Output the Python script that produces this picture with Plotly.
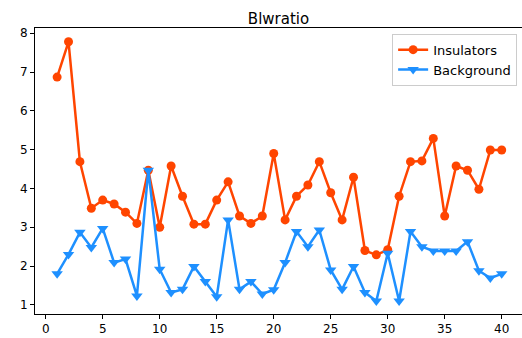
import plotly.graph_objects as go

x_vals = list(range(1, 41))
insulators = [6.87, 7.78, 4.69, 3.49, 3.70, 3.60, 3.39, 3.10, 4.47, 3.00,
              4.58, 3.80, 3.08, 3.08, 3.70, 4.17, 3.29, 3.10, 3.29, 4.90,
              3.19, 3.80, 4.09, 4.69, 3.89, 3.19, 4.29, 2.40, 2.29, 2.42,
              3.80, 4.69, 4.71, 5.29, 3.29, 4.58, 4.47, 3.98, 4.99, 4.99]
background = [1.80, 2.30, 2.87, 2.48, 2.97, 2.09, 2.18, 1.23, 4.47, 1.92,
              1.32, 1.40, 1.99, 1.60, 1.21, 3.19, 1.40, 1.60, 1.28, 1.39,
              2.09, 2.89, 2.50, 2.93, 1.90, 1.40, 1.99, 1.32, 1.10, 2.33,
              1.10, 2.89, 2.50, 2.39, 2.39, 2.39, 2.63, 1.88, 1.69, 1.80]
x_ticks = [0, 5, 10, 15, 20, 25, 30, 35, 40]
y_ticks = [1, 2, 3, 4, 5, 6, 7, 8]

fig = go.Figure()
fig.add_trace(go.Scatter(x=x_vals, y=insulators, mode="lines+markers", name="Insulators",
                         line=dict(color="#FF4500", width=2.5),
                         marker=dict(symbol="circle", size=9, color="#FF4500")))
fig.add_trace(go.Scatter(x=x_vals, y=background, mode="lines+markers", name="Background",
                         line=dict(color="#1E90FF", width=2.5),
                         marker=dict(symbol="triangle-down", size=10, color="#1E90FF")))

axis_common = dict(showgrid=False, zeroline=False, showline=True, linecolor="black",
                   linewidth=1, mirror=True, ticks="outside", ticklen=4,
                   tickcolor="black", tickfont=dict(family="DejaVu Sans", size=12, color="black"))
fig.update_xaxes(range=[-0.94, 41.78], tickvals=x_ticks, **axis_common)
fig.update_yaxes(range=[0.765, 8.135], tickvals=y_ticks, **axis_common)

fig.update_layout(
    width=522, height=338,
    margin=dict(l=35, r=0, t=28, b=24),
    paper_bgcolor="white", plot_bgcolor="white",
    title=dict(text="Blwratio", x=0.5, xref="paper", xanchor="center", y=0.944, yanchor="middle",
               font=dict(family="DejaVu Sans", size=15, color="black")),
    legend=dict(x=0.99, y=0.98, xanchor="right", yanchor="top",
                bgcolor="white", bordercolor="#cccccc", borderwidth=1,
                font=dict(family="DejaVu Sans", size=13, color="black"),
                tracegroupgap=0, itemwidth=30),
    showlegend=True,
)

fig.write_html("out.html", config={"displayModeBar": False},
               post_script="document.body.style.margin='0';document.body.style.padding='0';")
